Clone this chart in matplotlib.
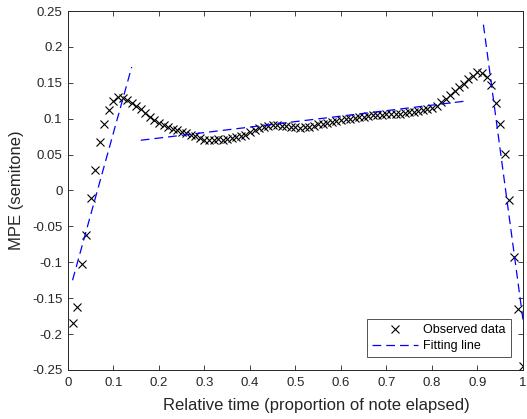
import numpy as np
import matplotlib.pyplot as plt

plt.rcParams['font.family'] = ['Liberation Sans', 'DejaVu Sans']

# observed data (relative time, MPE in semitones)
tiempo = np.round(np.arange(1, 101) * 0.01, 2)
mpe = [
    -0.185, -0.162, -0.102, -0.062, -0.011, 0.029, 0.067, 0.092, 0.112, 0.125,
    0.130, 0.129, 0.126, 0.122, 0.118, 0.113, 0.108, 0.103, 0.098, 0.094,
    0.091, 0.088, 0.086, 0.084, 0.082, 0.080, 0.078, 0.076, 0.073, 0.071,
    0.070, 0.071, 0.072, 0.071, 0.072, 0.073, 0.074, 0.076, 0.078, 0.081,
    0.084, 0.087, 0.089, 0.090, 0.091, 0.091, 0.090, 0.090, 0.089, 0.088,
    0.087, 0.088, 0.089, 0.090, 0.092, 0.093, 0.094, 0.095, 0.097, 0.098,
    0.099, 0.100, 0.101, 0.102, 0.103, 0.104, 0.105, 0.105, 0.105, 0.106,
    0.106, 0.107, 0.107, 0.108, 0.109, 0.110, 0.111, 0.112, 0.113, 0.115,
    0.118, 0.123, 0.128, 0.133, 0.139, 0.144, 0.149, 0.155, 0.160, 0.165,
    0.164, 0.158, 0.147, 0.122, 0.093, 0.051, -0.013, -0.092, -0.165, -0.245,
]

# fitted segments: (x start, x end), (y start, y end)
tramos_x = [(0.01, 0.14), (0.16, 0.88), (0.913, 1.0)]
tramos_y = [(-0.125, 0.172), (0.070, 0.125), (0.231, -0.180)]

fig = plt.figure(figsize=(5.27, 4.19), dpi=100)
ax = fig.add_axes([0.129, 0.117, 0.8634, 0.8567])

ax.plot(tiempo, mpe, 'x', color='black', markersize=6, markeredgewidth=0.8,
        label='Observed data')
for i, (xs, ys) in enumerate(zip(tramos_x, tramos_y)):
    ax.plot(xs, ys, '--', color='#0000ff', linewidth=0.9, dashes=(7, 4),
            label='Fitting line' if i == 0 else None)

ax.set_xlim(0, 1)
ax.set_ylim(-0.25, 0.25)
ax.set_xticks(np.round(np.arange(0, 1.01, 0.1), 1))
ax.set_xticklabels(['0', '0.1', '0.2', '0.3', '0.4', '0.5', '0.6', '0.7',
                    '0.8', '0.9', '1'])
yt = np.round(np.arange(-0.25, 0.2501, 0.05), 2)
ax.set_yticks(yt)
ax.set_yticklabels(['-0.25', '-0.2', '-0.15', '-0.1', '-0.05', '0', '0.05',
                    '0.1', '0.15', '0.2', '0.25'])

ax.tick_params(direction='in', top=True, right=True, length=3.6, width=0.6,
               colors='#262626', labelsize=9.5, labelcolor='#262626')
ax.tick_params(axis='x', pad=5)
ax.tick_params(axis='y', pad=4)
for s in ax.spines.values():
    s.set_color('#262626')
    s.set_linewidth(0.7)

ax.set_xlabel('Relative time (proportion of note elapsed)', fontsize=12,
              color='#262626')
ax.set_ylabel('MPE (semitone)', fontsize=12, color='#262626')
ax.xaxis.set_label_coords(0.545, -0.078)
ax.yaxis.set_label_coords(-0.097, 0.5)

leg = ax.legend(loc='lower right', bbox_to_anchor=(0.9736, 0.036),
                fontsize=9, frameon=True, fancybox=False, borderaxespad=0,
                handlelength=3.7, handletextpad=0.4, borderpad=0.4,
                labelspacing=0.3)
leg.get_frame().set_edgecolor('#262626')
leg.get_frame().set_linewidth(0.7)

fig.savefig('out.png', dpi=100)
